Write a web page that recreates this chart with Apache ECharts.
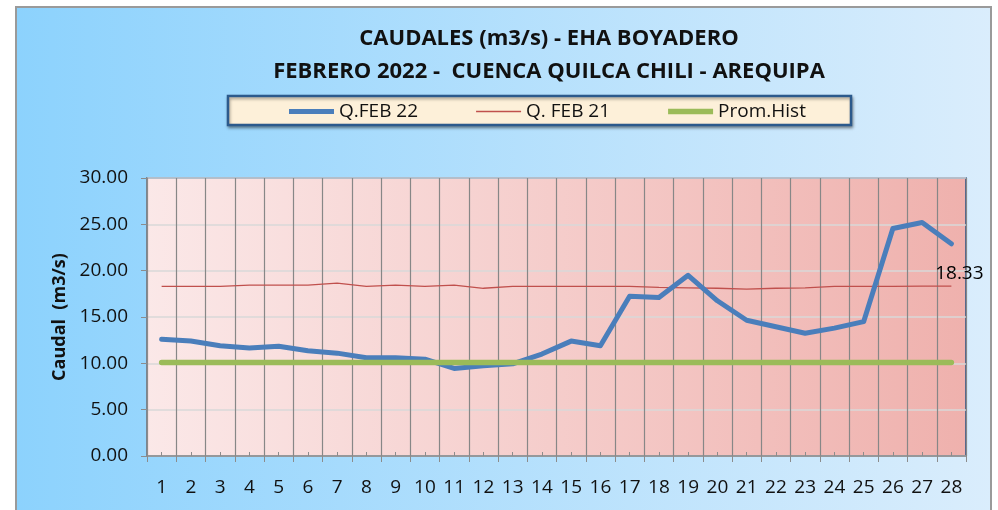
<!DOCTYPE html>
<html>
<head>
<meta charset="utf-8">
<script src="https://cdn.jsdelivr.net/npm/echarts@6/dist/echarts.min.js"></script>
<style>
    html, body { margin: 0; padding: 0; background: #fff; }
    #chart { width: 998px; height: 510px; }
</style>
</head>
<body>
<div id="chart"></div>
<script>
    // dias de febrero
    var dias = ['1','2','3','4','5','6','7','8','9','10','11','12','13','14',
                '15','16','17','18','19','20','21','22','23','24','25','26','27','28'];
    // caudales (m3/s)
    var qFeb22 = [12.6, 12.4, 11.9, 11.65, 11.85, 11.35, 11.1, 10.6, 10.6, 10.45, 9.45, 9.75, 9.95, 11.0,
                  12.4, 11.9, 17.25, 17.1, 19.5, 16.75, 14.65, 13.95, 13.25, 13.8, 14.5, 24.55, 25.2, 22.9];
    var qFeb21 = [18.3, 18.3, 18.3, 18.45, 18.45, 18.45, 18.65, 18.3, 18.45, 18.3, 18.45, 18.1, 18.3, 18.3,
                  18.3, 18.3, 18.3, 18.2, 18.15, 18.1, 18.0, 18.1, 18.15, 18.3, 18.3, 18.3, 18.33, 18.33];
    var promHist = [10.1, 10.1, 10.1, 10.1, 10.1, 10.1, 10.1, 10.1, 10.1, 10.1, 10.1, 10.1, 10.1, 10.1,
                    10.1, 10.1, 10.1, 10.1, 10.1, 10.1, 10.1, 10.1, 10.1, 10.1, 10.1, 10.1, 10.1, 10.1];

    var fuente = '"Open Sans", "Noto Sans", sans-serif';

    // etiqueta solo en el ultimo punto del 2021
    var feb21Data = qFeb21.map(function (v, i) {
        if (i === qFeb21.length - 1) {
            return {
                value: v,
                label: {
                    show: true, position: 'top', distance: 3, offset: [8, 0],
                    color: '#000', fontSize: 19, fontFamily: fuente,
                    formatter: function (p) { return p.value.toFixed(2); }
                }
            };
        }
        return v;
    });

    var myChart = echarts.init(document.getElementById('chart'));
    myChart.setOption({
        animation: false,
        graphic: [
            {
                type: 'rect', z: -10,
                shape: { x: 16, y: 7, width: 975, height: 520 },
                style: {
                    fill: new echarts.graphic.LinearGradient(0, 0, 1, 0, [
                        { offset: 0, color: '#8cd2fd' },
                        { offset: 1, color: '#daedfc' }
                    ]),
                    stroke: '#9a9a9a', lineWidth: 2
                }
            },
            {
                type: 'rect', z: -5,
                shape: { x: 228, y: 96, width: 623, height: 29 },
                style: {
                    fill: '#fdf0d9', stroke: '#2c5a8c', lineWidth: 2.5,
                    shadowBlur: 3, shadowColor: 'rgba(0,0,0,0.35)', shadowOffsetX: 1, shadowOffsetY: 2
                }
            }
        ],
        title: {
            text: 'CAUDALES (m3/s) - EHA BOYADERO\nFEBRERO 2022 -  CUENCA QUILCA CHILI - AREQUIPA',
            left: 544,
            top: 17,
            textAlign: 'center',
            textStyle: {
                fontFamily: fuente, fontSize: 22, fontWeight: 'bold', color: '#111',
                lineHeight: 33
            }
        },
        legend: {
            left: 289,
            top: 102,
            padding: 0,
            itemWidth: 45,
            itemHeight: 14,
            itemGap: 58,
            textStyle: { fontFamily: fuente, fontSize: 19, color: '#111' },
            data: [
                { name: 'Q.FEB 22', icon: 'path://M0,0H46V5H0Z' },
                { name: 'Q. FEB 21', icon: 'path://M0,0H46V1.3H0Z' },
                { name: 'Prom.Hist', icon: 'path://M0,0H46V5.5H0Z' }
            ]
        },
        grid: {
            left: 147, right: 32, top: 178, bottom: 54,
            show: true,
            backgroundColor: new echarts.graphic.LinearGradient(0, 0, 1, 0, [
                { offset: 0, color: '#fbe8e8' },
                { offset: 1, color: '#efb1ad' }
            ]),
            borderColor: '#1f4e84',
            borderWidth: 1.5
        },
        xAxis: [
            {
                type: 'category',
                boundaryGap: true,
                data: dias,
                axisLine: { lineStyle: { color: '#8c8c8c', width: 1.5 } },
                axisTick: { show: true, length: 6, lineStyle: { color: '#8c8c8c' } },
                axisLabel: { margin: 22, color: '#111', fontSize: 19, fontFamily: fuente, interval: 0 },
                splitLine: { show: true, lineStyle: { color: '#878787', width: 1.2 } }
            },
            {
                type: 'category',
                boundaryGap: true,
                position: 'bottom',
                data: dias,
                axisLine: { show: false },
                axisTick: { show: true, inside: true, alignWithLabel: true, length: 4, lineStyle: { color: '#8c8c8c' } },
                axisLabel: { show: false },
                splitLine: { show: false }
            }
        ],
        yAxis: {
            type: 'value',
            min: 0,
            max: 30,
            interval: 5,
            name: 'Caudal  (m3/s)',
            nameLocation: 'middle',
            nameGap: 78,
            nameTextStyle: { fontFamily: fuente, fontSize: 18, fontWeight: 'bold', color: '#111' },
            axisLine: { show: true, lineStyle: { color: '#8c8c8c', width: 1.5 } },
            axisTick: { show: true, length: 6, lineStyle: { color: '#8c8c8c' } },
            axisLabel: {
                margin: 19, color: '#111', fontSize: 19, fontFamily: fuente,
                formatter: function (v) { return v.toFixed(2); }
            },
            splitLine: { show: true, lineStyle: { color: '#d9d9d9', width: 1.5 } }
        },
        series: [
            {
                name: 'Q.FEB 22',
                type: 'line',
                z: 3,
                showSymbol: false,
                symbol: 'none',
                data: qFeb22,
                itemStyle: { color: '#4a7ebb' },
                lineStyle: { color: '#4a7ebb', width: 5, cap: 'round', join: 'round' }
            },
            {
                name: 'Q. FEB 21',
                type: 'line',
                z: 2,
                showSymbol: true,
                symbol: 'circle',
                symbolSize: 0,
                data: feb21Data,
                itemStyle: { color: '#c0504d' },
                lineStyle: { color: '#c0504d', width: 1.3 }
            },
            {
                name: 'Prom.Hist',
                type: 'line',
                z: 4,
                showSymbol: false,
                symbol: 'none',
                data: promHist,
                itemStyle: { color: '#9bbb59' },
                lineStyle: { color: '#9bbb59', width: 5.5, cap: 'round' }
            }
        ]
    });
</script>
</body>
</html>
